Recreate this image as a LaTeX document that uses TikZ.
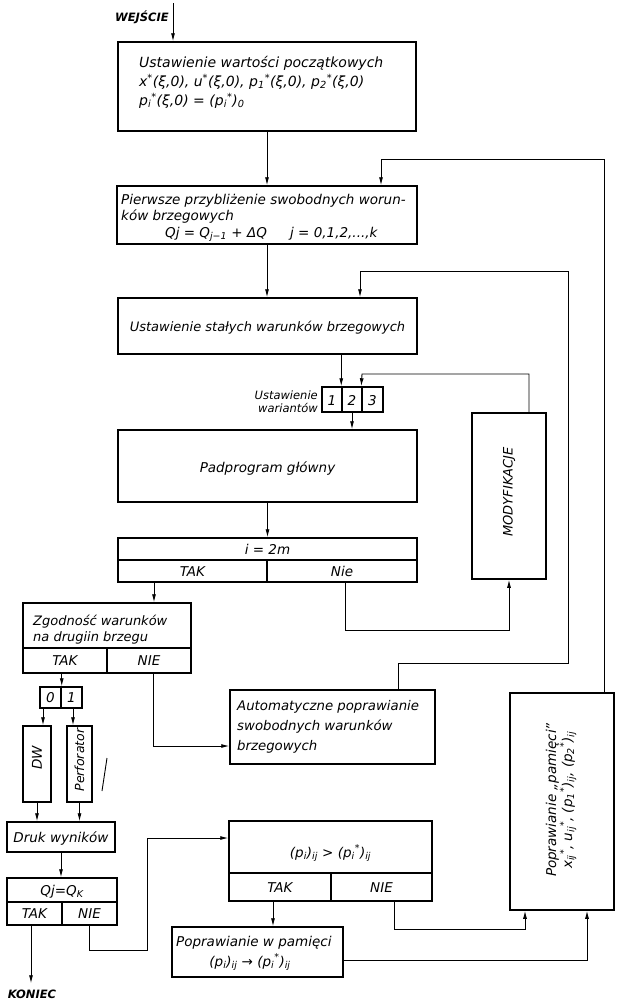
\documentclass[tikz,border=0pt]{standalone}
\usepackage{fontspec}
\setmainfont{DejaVu Sans}
\usetikzlibrary{fit,arrows.meta,calc}
\newcommand\tsub[1]{\textsubscript{#1}}
\newcommand\tsup[1]{\textsuperscript{#1}}
\begin{document}
\begin{tikzpicture}[x=1pt,y=-1pt,
  bx/.style={draw, line width=1.5pt, inner sep=0pt},
  ln/.style={line width=0.9pt},
  ar/.style={line width=0.9pt, -{Latex[length=8pt,width=4pt]}},
  tx/.style={inner sep=0pt, font=\itshape\fontsize{13.5}{16}\selectfont},
  sm/.style={inner sep=0pt, font=\itshape\fontsize{11.5}{13}\selectfont},
  lab/.style={inner sep=0pt, font=\bfseries\itshape\fontsize{11.5}{14}\selectfont},
]
\useasboundingbox (0,0) rectangle (617,1001);

% ---------- boxes ----------
\node[bx, fit={(118,42) (416,131)}] (b1) {};
\node[bx, fit={(117,186) (417,244)}] (b2) {};
\node[bx, fit={(118,298) (417,354)}] (b3) {};
\node[bx, fit={(322,387) (342,412)}] (var1) {};
\node[bx, fit={(342,387) (362,412)}] (var2) {};
\node[bx, fit={(362,387) (383,412)}] (var3) {};
\node[bx, fit={(118,430) (417,502)}] (pad) {};
\node[bx, fit={(118,538) (417,560)}] (dec1) {};
\node[bx, fit={(118,560) (267,582)}] (dec1t) {};
\node[bx, fit={(267,560) (417,582)}] (dec1n) {};
\node[bx, fit={(472,413) (546,579)}] (mod) {};
\node[bx, fit={(23,603) (191,648)}] (zg) {};
\node[bx, fit={(23,648) (107,673)}] (zgt) {};
\node[bx, fit={(107,648) (191,673)}] (zgn) {};
\node[bx, fit={(230,690) (435,764)}] (auto) {};
\node[bx, fit={(40,687) (61,708)}] (o0) {};
\node[bx, fit={(61,687) (82,708)}] (o1) {};
\node[bx, fit={(23,726) (51,802)}] (dw) {};
\node[bx, fit={(67,726) (92,802)}] (perf) {};
\node[bx, fit={(7,822) (115,852)}] (druk) {};
\node[bx, fit={(7,878) (117,902)}] (qj) {};
\node[bx, fit={(7,902) (62,925)}] (qjt) {};
\node[bx, fit={(62,902) (117,925)}] (qjn) {};
\node[bx, fit={(229,821) (432,873)}] (pc) {};
\node[bx, fit={(229,873) (331,901)}] (pct) {};
\node[bx, fit={(331,873) (432,901)}] (pcn) {};
\node[bx, fit={(172,927) (343,977)}] (pw) {};
\node[bx, fit={(510,693) (614,910)}] (pp) {};

% ---------- texts ----------
\node[lab, anchor=base east] (wej) at (169,21) {WEJŚCIE};
\node[tx, anchor=north west, align=left, font=\itshape\fontsize{14}{19}\selectfont] (t1) at (139,56)
  {Ustawienie wartości początkowych\\
   x\tsup{*}(ξ,0), u\tsup{*}(ξ,0), p\tsub{1}\tsup{*}(ξ,0), p\tsub{2}\tsup{*}(ξ,0)\\
   p\tsub{i}\tsup{*}(ξ,0) = (p\tsub{i}\tsup{*})\tsub{0}};

\node[tx, anchor=north west, align=left, font=\itshape\fontsize{13.5}{16.5}\selectfont] (t2) at (121,194)
  {Pierwsze przybliżenie swobodnych worun-\\
   ków brzegowych\\
   \hspace*{44pt}\makebox[125pt][l]{Qj = Q\tsub{j−1} + ΔQ}j = 0,1,2,...,k};

\node[tx, anchor=base, font=\itshape\fontsize{13}{15}\selectfont] (t3) at (267.5,331) {Ustawienie stałych warunków brzegowych};

\node[tx, anchor=base] (v1) at (332,405) {1};
\node[tx, anchor=base] (v2) at (352,405) {2};
\node[tx, anchor=base] (v3) at (372.5,405) {3};
\node[sm, anchor=base east] (uw1) at (318,399) {Ustawienie};
\node[sm, anchor=base east] (uw2) at (318,412) {wariantów};

\node[tx, anchor=base] (tpad) at (267.5,472) {Padprogram główny};
\node[tx, anchor=base] (td1) at (267.5,554) {i = 2m};
\node[tx, anchor=base] (td1t) at (192.5,576) {TAK};
\node[tx, anchor=base] (td1n) at (342,576) {Nie};

\node[tx, rotate=90, font=\itshape\fontsize{13}{14}\selectfont] (tmod) at (509,492) {MODYFIKACJE};

\node[tx, anchor=north west, align=left, font=\itshape\fontsize{13}{15.5}\selectfont] (tzg) at (33,615)
  {Zgodność warunków\\na drugiin brzegu};
\node[tx, anchor=base] (tzgt) at (65,665) {TAK};
\node[tx, anchor=base] (tzgn) at (149,665) {NIE};

\node[tx, anchor=north west, align=left, font=\itshape\fontsize{13.3}{20}\selectfont] (ta) at (237,700)
  {Automatyczne poprawianie\\swobodnych warunków\\brzegowych};

\node[tx, anchor=base] (to0) at (50.5,702) {0};
\node[tx, anchor=base] (to1) at (71.5,702) {1};
\node[tx, rotate=90] (tdw) at (37,758) {DW};
\node[tx, rotate=90, font=\itshape\fontsize{12.5}{14}\selectfont] (tperf) at (79.5,760) {Perforator};

\node[tx, anchor=base] (tdruk) at (61,842) {Druk wyników};
\node[tx, anchor=base] (tqj) at (62,895) {Qj=Q\tsub{K}};
\node[tx, anchor=base] (tqjt) at (34.5,918) {TAK};
\node[tx, anchor=base] (tqjn) at (89.5,918) {NIE};
\node[lab, anchor=base] (kon) at (32,998) {KONIEC};

\node[tx, anchor=base] (tpc) at (330.5,857) {(p\tsub{i})\tsub{ij} > (p\tsub{i}\tsup{*})\tsub{ij}};
\node[tx, anchor=base] (tpct) at (280,892) {TAK};
\node[tx, anchor=base] (tpcn) at (381.5,892) {NIE};

\node[tx, anchor=base west] (tpw1) at (176,946) {Poprawianie w pamięci};
\node[tx, anchor=base] (tpw2) at (250,966) {(p\tsub{i})\tsub{ij} → (p\tsub{i}\tsup{*})\tsub{ij}};

\node[tx, rotate=90, align=center, font=\itshape\fontsize{13.5}{15}\selectfont] (tpp) at (561,800)
  {Poprawianie „pamięci”\\x\tsub{ij}\tsup{*}, u\tsub{ij}\tsup{*}, (p\tsub{1}\tsup{*})\tsub{ij}, (p\tsub{2}\tsup{*})\tsub{ij}};

% ---------- connectors ----------
\coordinate (wejin) at (173,3);
\draw[ar] (wejin) -- (b1.north -| wejin);
\draw[ar] (b1.south) -- (b2.north);
\draw[ar] (pp.north -| 604,0) -- (604,159) -- (381,159) -- (b2.north -| 381,0);
\draw[ar] (b2.south) -- (b3.north -| b2.south);
\draw[ar] (auto.north -| 398,0) -- (398,663) -- (568,663) -- (568,271) -- (360,271) -- (b3.north -| 360,0);
\draw[ar] (b3.south -| var2.north west) -- (var2.north west);
\draw[ar] (mod.north -| 529,0) -- (529,374) -- (362,374) -- (var3.north west);
\draw[ar] (var2.south) -- (pad.north -| var2.south);
\draw[ar] (pad.south) -- (dec1.north -| pad.south);
\draw[ar] (dec1t.south -| 154,0) -- (zg.north -| 154,0);
\draw[ar] (dec1n.south -| 345,0) -- (345,630) -- (509,630) -- (mod.south);
\draw[ar] (zgt.south -| o0.north east) -- (o0.north east);
\draw[ar] (zgn.south -| 153,0) -- (153,746) -- (auto.west |- 0,746);
\draw[ar] (o0.south -| 43,0) -- (dw.north -| 43,0);
\draw[ar] (o1.south -| 73,0) -- (perf.north -| 73,0);
\draw[ar] (dw.south) -- (druk.north -| dw.south);
\draw[ar] (perf.south) -- (druk.north -| perf.south);
\draw[ar] (druk.south) -- (qj.north -| druk.south);
\draw[ar, shorten >=6pt] (qjt.south -| 31,0) -- (kon.north -| 31,0);
\draw[ar] (qjn.south -| 89,0) -- (89,950) -- (147,950) -- (147,838) -- (pc.west |- 0,838);
\draw[ar] (pct.south -| 273,0) -- (pw.north -| 273,0);
\draw[ar] (pcn.south -| 394,0) -- (394,929) -- (525,929) -- (pp.south -| 525,0);
\draw[ar] (pw.east |- 0,960) -- (587,960) -- (pp.south -| 587,0);

% stray mark near the perforator box
\draw[ln] (107,758) -- (102,791);
\end{tikzpicture}
\end{document}
